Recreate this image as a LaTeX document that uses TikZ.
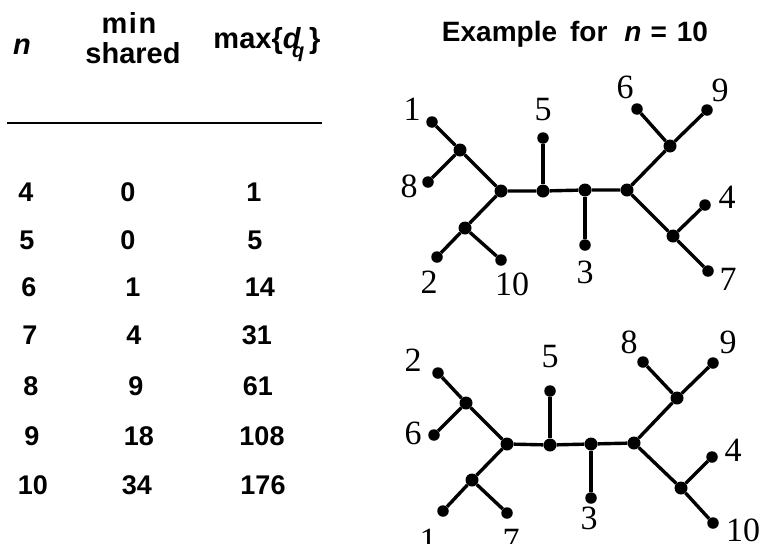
\documentclass[tikz,border=0pt]{standalone}
\usepackage{fontspec}
\setmainfont{Liberation Sans}
\newfontfamily\lblfont{Liberation Serif}
\begin{document}
\begin{tikzpicture}[x=1pt,y=-1pt,
  cell/.style={font=\fontsize{27}{29}\selectfont\bfseries, inner sep=0pt},
  hdr/.style={font=\fontsize{29}{31}\selectfont\bfseries, inner sep=0pt},
  ttl/.style={font=\fontsize{28}{30}\selectfont\bfseries, inner sep=0pt},
  dot/.style={circle, fill=black, inner sep=0pt, minimum size=11.5pt},
  hub/.style={circle, fill=black, inner sep=0pt, minimum size=13pt},
  edge/.style={line width=3.4pt},
  lbl/.style={font=\fontsize{34}{36}\selectfont\lblfont, inner sep=0pt}]
\useasboundingbox (0,0) rectangle (764,544);
% ---------- table ----------
\node[hdr] (hn) at (22,47) {\textit{n}};
\node[hdr] (hmin) at (129,23) {m\kern1.5pt i\kern1.5pt n};
\node[hdr] (hsh) at (133,53) {shared};
\node[hdr] (hmax) at (267,45) {max\{\textit{d}\kern-9pt\raisebox{-9pt}{\fontsize{20}{21}\selectfont\textit{q}}\kern5pt\}};
\coordinate (la) at (7,123);
\coordinate (lb) at (322,123);
\draw[line width=2.2pt] (la) -- (lb);
\foreach \r/\y/\a/\xa/\b/\xb/\c/\xc in {
  1/192/4/26/0/128/1/254,
  2/240/5/27/0/128/5/255,
  3/287/6/29/1/133/14/260,
  4/335/7/30/4/134/31/257,
  5/386/8/31/9/136/61/258,
  6/436/9/32/18/139/108/262,
  7/485/10/33/34/137/176/263}{
  \node[cell] (n\r) at (\xa,\y) {\a};
  \node[cell] (s\r) at (\xb,\y) {\b};
  \node[cell] (m\r) at (\xc,\y) {\c};
}
% ---------- title ----------
\node[ttl, anchor=base] (title) at (575,41) {Example\hspace{13pt}for\hspace{17pt}\textit{n}\hspace{9pt}=\hspace{10pt}10};
% ---------- top tree ----------
\node[hub] (tA) at (460,150) {};
\node[hub] (tB) at (501,191) {};
\node[hub] (tC) at (543,191) {};
\node[hub] (tD) at (585,190) {};
\node[hub] (tE) at (627,190) {};
\node[hub] (tF) at (670,146) {};
\node[hub] (tG) at (673,236) {};
\node[hub] (tH) at (465,228) {};
\node[dot] (t1) at (432,122) {};
\node[dot] (t8) at (428,182) {};
\node[dot] (t5) at (543,138) {};
\node[dot] (t3) at (585,245) {};
\node[dot] (t6) at (637,109) {};
\node[dot] (t9) at (707,110) {};
\node[dot] (t4) at (705,205) {};
\node[dot] (t7) at (708,271) {};
\node[dot] (t2) at (437,257) {};
\node[dot] (t10) at (501,260) {};
\draw[edge] (t1) -- (tA) -- (tB) -- (tC) -- (tD) -- (tE) -- (tF) -- (t9);
\draw[edge] (t8) -- (tA);
\draw[edge] (tB) -- (tH) -- (t2);
\draw[edge] (tH) -- (t10);
\draw[edge] (tC) -- (t5);
\draw[edge] (tD) -- (t3);
\draw[edge] (tF) -- (t6);
\draw[edge] (tE) -- (tG) -- (t4);
\draw[edge] (tG) -- (t7);
\node[lbl] (l1) at (412,109) {1};
\node[lbl] (l8) at (409,186) {8};
\node[lbl] (l5) at (543,110) {5};
\node[lbl] (l6) at (625,87) {6};
\node[lbl] (l9) at (720,90) {9};
\node[lbl] (l4) at (727,197) {4};
\node[lbl] (l7) at (728,279) {7};
\node[lbl] (l3) at (585,272) {3};
\node[lbl] (l2) at (429,282) {2};
\node[lbl] (l10) at (512,284) {10};
% ---------- bottom tree ----------
\node[hub] (bA) at (466,403) {};
\node[hub] (bB) at (507,444) {};
\node[hub] (bC) at (550,445) {};
\node[hub] (bD) at (591,444) {};
\node[hub] (bE) at (634,443) {};
\node[hub] (bF) at (677,398) {};
\node[hub] (bG) at (681,488) {};
\node[hub] (bH) at (472,480) {};
\node[dot] (b2) at (438,373) {};
\node[dot] (b6) at (434,435) {};
\node[dot] (b5) at (550,391) {};
\node[dot] (b3) at (591,498) {};
\node[dot] (b8) at (643,362) {};
\node[dot] (b9) at (713,363) {};
\node[dot] (b4) at (712,457) {};
\node[dot] (b10) at (713,523) {};
\node[dot] (b1) at (443,511) {};
\node[dot] (b7) at (507,513) {};
\draw[edge] (b2) -- (bA) -- (bB) -- (bC) -- (bD) -- (bE) -- (bF) -- (b9);
\draw[edge] (b6) -- (bA);
\draw[edge] (bB) -- (bH) -- (b1);
\draw[edge] (bH) -- (b7);
\draw[edge] (bC) -- (b5);
\draw[edge] (bD) -- (b3);
\draw[edge] (bF) -- (b8);
\draw[edge] (bE) -- (bG) -- (b4);
\draw[edge] (bG) -- (b10);
\node[lbl] (k2) at (413,360) {2};
\node[lbl] (k6) at (413,433) {6};
\node[lbl] (k5) at (550,357) {5};
\node[lbl] (k8) at (629,342) {8};
\node[lbl] (k9) at (728,342) {9};
\node[lbl] (k4) at (733,450) {4};
\node[lbl] (k10) at (743,530) {10};
\node[lbl] (k3) at (589,518) {3};
\node[lbl] (k1) at (428,540) {1};
\node[lbl] (k7) at (511,540) {7};
\end{tikzpicture}
\end{document}
